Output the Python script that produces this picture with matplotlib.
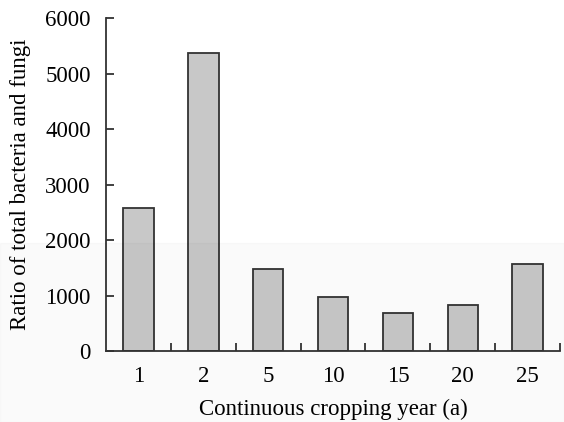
import numpy as np
import matplotlib
matplotlib.use("Agg")
import matplotlib.pyplot as plt
from matplotlib.patches import Rectangle

# data
years = ["1", "2", "5", "10", "15", "20", "25"]
ratio = [2580, 5370, 1480, 975, 690, 830, 1570]
y_ticks = [0, 1000, 2000, 3000, 4000, 5000, 6000]

plt.rcParams['font.family'] = ['Liberation Serif', 'DejaVu Serif']
plt.rcParams['font.size'] = 16.5

fig = plt.figure(figsize=(5.64, 4.22), dpi=100)
ax = fig.add_axes([0.188, 0.168, 0.805, 0.789])

x = np.arange(len(years))
ax.bar(x, ratio, width=0.47, color='#c8c8c8', edgecolor='#333333', linewidth=1.3)

ax.set_xlim(-0.5, len(years) - 0.5)
ax.set_ylim(0, 6000)
ax.set_yticks(y_ticks)
ax.set_xticks(x)
ax.set_xticklabels(years)
ax.tick_params(axis='x', which='major', length=0, pad=11)
ax.set_xticks(np.arange(len(years)) + 0.5, minor=True)
ax.tick_params(axis='x', which='minor', direction='in', length=6, width=1.3, color='#333333')
ax.tick_params(axis='y', direction='in', length=6, width=1.3, color='#333333', pad=11)

for side in ['top', 'right']:
    ax.spines[side].set_visible(False)
for side in ['left', 'bottom']:
    ax.spines[side].set_color('#333333')
    ax.spines[side].set_linewidth(1.3)

ax.set_xlabel('Continuous cropping year (a)', labelpad=8)
ax.set_ylabel('Ratio of total bacteria and fungi', labelpad=10)

# faint shaded band in the lower part of the scan
fig.patches.append(Rectangle((0, 0), 1, 0.424, transform=fig.transFigure,
                             color='black', alpha=0.018, zorder=10))

fig.savefig('out.png', dpi=100)
